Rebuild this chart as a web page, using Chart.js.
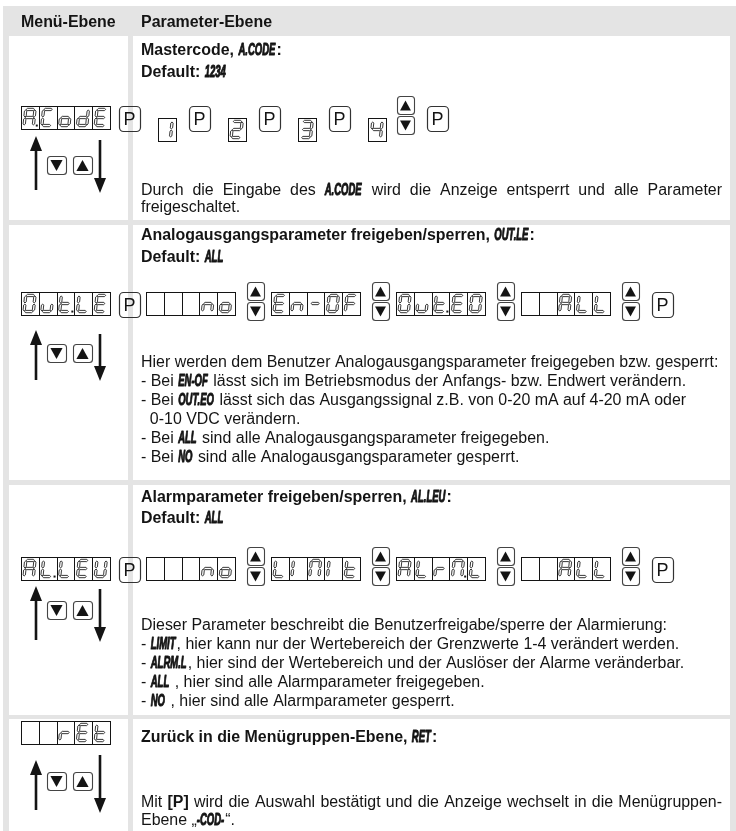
<!DOCTYPE html>
<html>
<head>
<meta charset="utf-8">
<script src="https://cdn.jsdelivr.net/npm/chart.js@4.4.1/dist/chart.umd.min.js"></script>
<style>
  html, body { margin: 0; padding: 0; background: #fff; }
  #menuChart { display: block; }
</style>
</head>
<body>
<canvas id="menuChart" width="736" height="831"></canvas>
<script>
// ---- content ----
const headerLabels = ['Menü-Ebene', 'Parameter-Ebene'];

// {..} = LCD style token, *..* = bold
const sectionTitles = [
  'Mastercode, {A.CODE}:',
  'Analogausgangsparameter freigeben/sperren, {OUT.LE}:',
  'Alarmparameter freigeben/sperren, {AL.LEU}:',
  'Zurück in die Menügruppen-Ebene, {RET}:'
];
const defaultValues = ['1234', 'ALL', 'ALL', null];

const menuCodes = ['A.CodE', 'Out.LE', 'AL.LEU', 'rEt'];

const stepSequences = [
  ['P', '#1', 'P', '#2', 'P', '#3', 'P', '#4', 'UD', 'P'],
  ['P', 'no', 'UD', 'En-OF', 'UD', 'Out.EO', 'UD', 'ALL', 'UD', 'P'],
  ['P', 'no', 'UD', 'LIMIt', 'UD', 'ALrM.L', 'UD', 'ALL', 'UD', 'P'],
  []
];

const descriptions = [
  ['Durch die Eingabe des {A.CODE} wird die Anzeige entsperrt und alle Parameter',
   'freigeschaltet.'],
  ['Hier werden dem Benutzer Analogausgangsparameter freigegeben bzw. gesperrt:',
   '- Bei {EN-OF} lässt sich im Betriebsmodus der Anfangs- bzw. Endwert verändern.',
   '- Bei {OUT.EO} lässt sich das Ausgangssignal z.B. von 0-20 mA auf 4-20 mA oder',
   '  0-10 VDC verändern.',
   '- Bei {ALL} sind alle Analogausgangsparameter freigegeben.',
   '- Bei {NO} sind alle Analogausgangsparameter gesperrt.'],
  ['Dieser Parameter beschreibt die Benutzerfreigabe/sperre der Alarmierung:',
   '- {LIMIT}, hier kann nur der Wertebereich der Grenzwerte 1-4 verändert werden.',
   '- {ALRM.L}, hier sind der Wertebereich und der Auslöser der Alarme veränderbar.',
   '- {ALL} , hier sind alle Alarmparameter freigegeben.',
   '- {NO} , hier sind alle Alarmparameter gesperrt.'],
  ['Mit *[P]* wird die Auswahl bestätigt und die Anzeige wechselt in die Menügruppen-',
   'Ebene „{-COD-}“.']
];
const justifiedLines = [[0], [], [], [0]];

// ---- layout ----
const ROWS = [
  { cy: 117, up: [136, 190], down: [140, 193], btn: 156, title: 55,  def: 77,  desc: [195, 212] },
  { cy: 303, up: [330, 380], down: [334, 381], btn: 344, title: 240, def: 262, desc: [367, 386, 405, 424, 443, 462] },
  { cy: 568, up: [586, 640], down: [589, 642], btn: 601, title: 502, def: 523, desc: [630, 649, 668, 687, 706] },
  { cy: 732, up: [760, 810], down: [755, 813], btn: 772, title: 742, def: null, desc: [807, 825] }
];
const TEXT_X = 141, TEXT_RIGHT = 722;
const GRAY = '#e4e4e4';
const INK = '#141414';
const FONT = '"Liberation Sans", Arial, sans-serif';

const SEGMENTS = {
  '0': 'abcdef', 'O': 'abcdef', '1': 'bc', '2': 'abdeg', '3': 'abcdg', '4': 'bcfg',
  'A': 'abcefg', 'C': 'adef', 'o': 'cdeg', 'd': 'bcdeg', 'E': 'adefg', 'u': 'cde',
  'U': 'bcdef', 't': 'defg', 'L': 'def', 'n': 'ceg', '-': 'g', 'F': 'aefg',
  'r': 'eg', 'I': 'ef', 'M': 'abcef', ' ': ''
};

function fontFor(kind) {
  if (kind === 'lcd') return 'bold italic 17px ' + FONT;
  if (kind === 'bold') return 'bold 16px ' + FONT;
  return '16px ' + FONT;
}

const menuTablePlugin = {
  id: 'menuTable',
  afterDraw(chart) {
    const ctx = chart.ctx;
    const sx = chart.scales.x, sy = chart.scales.y;
    const X = v => sx.getPixelForValue(v);
    const Y = v => sy.getPixelForValue(v);

    ctx.font = fontFor('normal');
    const ref = ctx.measureText('Dieser Parameter beschreibt die Benutzerfreigabe/sperre der Alarmierung:').width;
    const textScale = Math.max(0.9, Math.min(1.12, 526 / ref));
    const scaleOf = { lcd: 0.56, bold: textScale, normal: textScale };

    function box(x0, y0, x1, y1, color) {
      ctx.fillStyle = color;
      ctx.fillRect(X(x0), Y(y0), X(x1) - X(x0), Y(y1) - Y(y0));
    }

    function pieces(text, bold) {
      const out = [];
      text.split(/(\{[^}]*\}|\*[^*]*\*)/).forEach(part => {
        if (!part) return;
        let kind = bold ? 'bold' : 'normal', t = part;
        if (part[0] === '{') { kind = 'lcd'; t = part.slice(1, -1); }
        else if (part[0] === '*') { kind = 'bold'; t = part.slice(1, -1); }
        t.split(/( )/).forEach(w => { if (w) out.push({ t: w, kind, space: w === ' ' }); });
      });
      out.forEach(p => {
        ctx.font = fontFor(p.kind);
        p.w = ctx.measureText(p.t).width * scaleOf[p.kind] + (p.kind === 'lcd' ? 1 : 0);
      });
      return out;
    }

    function drawRich(text, x, y, bold, justify) {
      const ps = pieces(text, bold);
      let extra = 0;
      if (justify) {
        const total = ps.reduce((s, p) => s + p.w, 0);
        const n = ps.filter(p => p.space).length;
        if (n) extra = (TEXT_RIGHT - x - total) / n;
      }
      let cx = x;
      ctx.fillStyle = INK;
      ctx.strokeStyle = INK;
      ctx.textBaseline = 'alphabetic';
      ctx.textAlign = 'left';
      ps.forEach(p => {
        if (!p.space) {
          ctx.save();
          ctx.font = fontFor(p.kind);
          ctx.translate(X(cx), Y(y));
          ctx.scale(scaleOf[p.kind], 1);
          ctx.fillText(p.t, 0, 0);
          if (p.kind === 'lcd') {
            // heavier look of the display font
            ctx.lineWidth = 1.1;
            ctx.lineJoin = 'round';
            ctx.strokeText(p.t, 0, 0);
          }
          ctx.restore();
        }
        cx += p.w + (p.space ? extra : 0);
      });
    }

    // --- table grid ---
    box(3, 6, 736, 36, GRAY);
    box(3, 6, 9, 831, GRAY);
    box(730, 6, 736, 831, GRAY);
    box(128, 6, 133, 831, GRAY);
    [[220, 225], [480, 485], [715, 719]].forEach(s => box(3, s[0], 736, s[1], GRAY));

    drawRich(headerLabels[0], 21, 27, true, false);
    drawRich(headerLabels[1], TEXT_X, 27, true, false);

    // --- seven segment pieces ---
    function segPoly(x1, y1, x2, y2, t, slant, midY) {
      const len = Math.hypot(x2 - x1, y2 - y1);
      const dx = (x2 - x1) / len, dy = (y2 - y1) / len;
      const nx = -dy, ny = dx, g = 0.5, h = t / 2;
      const pts = [
        [x1 + dx * g, y1 + dy * g],
        [x1 + dx * (g + h) + nx * h, y1 + dy * (g + h) + ny * h],
        [x2 - dx * (g + h) + nx * h, y2 - dy * (g + h) + ny * h],
        [x2 - dx * g, y2 - dy * g],
        [x2 - dx * (g + h) - nx * h, y2 - dy * (g + h) - ny * h],
        [x1 + dx * (g + h) - nx * h, y1 + dy * (g + h) - ny * h]
      ];
      ctx.beginPath();
      pts.forEach((p, i) => {
        const px = X(p[0] + (midY - p[1]) * slant), py = Y(p[1]);
        if (i) ctx.lineTo(px, py); else ctx.moveTo(px, py);
      });
      ctx.closePath();
      ctx.fillStyle = '#fff';
      ctx.fill();
      ctx.stroke();
    }

    function drawGlyph(ch, dot, x, y, w, h) {
      const x0 = x + w * 0.22, x1 = x + w * 0.74;
      const y0 = y + h * 0.15, y1 = y + h * 0.85, ym = (y0 + y1) / 2;
      const segs = SEGMENTS[ch] || '';
      const lines = {
        a: [x0, y0, x1, y0], b: [x1, y0, x1, ym], c: [x1, ym, x1, y1],
        d: [x0, y1, x1, y1], e: [x0, ym, x0, y1], f: [x0, y0, x0, ym], g: [x0, ym, x1, ym]
      };
      ctx.strokeStyle = INK;
      ctx.lineWidth = 0.85;
      for (const s of segs) {
        const l = lines[s];
        segPoly(l[0], l[1], l[2], l[3], 2.3, 0.1, ym);
      }
      if (dot) {
        ctx.fillStyle = INK;
        ctx.fillRect(X(x1 + 1.6), Y(y1 - 1), 2, 2);
      }
    }

    function parseCode(code, n) {
      const cells = [];
      for (const ch of code) {
        if (ch === '.' && cells.length) cells[cells.length - 1].dot = true;
        else cells.push({ ch, dot: false });
      }
      while (cells.length < n) cells.unshift({ ch: ' ', dot: false });
      return cells;
    }

    function drawDisplay(code, x, y, w, h, n) {
      const cells = parseCode(code, n);
      const cw = w / n;
      ctx.strokeStyle = INK;
      ctx.lineWidth = 1;
      ctx.strokeRect(Math.round(X(x)) + 0.5, Math.round(Y(y)) + 0.5, Math.round(X(x + w) - X(x)), Math.round(Y(y + h) - Y(y)));
      for (let i = 1; i < n; i++) {
        const lx = Math.round(X(x + i * cw)) + 0.5;
        ctx.beginPath();
        ctx.moveTo(lx, Y(y));
        ctx.lineTo(lx, Y(y + h));
        ctx.stroke();
      }
      cells.forEach((c, i) => drawGlyph(c.ch, c.dot, x + i * cw, y, cw, h));
    }

    function roundBox(x, y, w, h, r, lw, color) {
      ctx.beginPath();
      ctx.roundRect(Math.round(X(x)) + 0.5, Math.round(Y(y)) + 0.5, X(x + w) - X(x), Y(y + h) - Y(y), r);
      ctx.lineWidth = lw;
      ctx.strokeStyle = color;
      ctx.stroke();
    }

    function triangle(cx, cy, size, up) {
      const hh = size * 0.45, hw = size * 0.5;
      ctx.beginPath();
      if (up) {
        ctx.moveTo(X(cx), Y(cy - hh)); ctx.lineTo(X(cx + hw), Y(cy + hh)); ctx.lineTo(X(cx - hw), Y(cy + hh));
      } else {
        ctx.moveTo(X(cx), Y(cy + hh)); ctx.lineTo(X(cx + hw), Y(cy - hh)); ctx.lineTo(X(cx - hw), Y(cy - hh));
      }
      ctx.closePath();
      ctx.fillStyle = INK;
      ctx.fill();
    }

    function keyButton(x, y, w, h, up) {
      roundBox(x, y, w, h, 3, 1.1, '#444');
      triangle(x + w / 2, y + h / 2 + 0.5, w * 0.64, up);
    }

    function pButton(x, cy) {
      roundBox(x, cy - 11, 21, 25, 4, 1.2, '#333');
      ctx.save();
      ctx.font = '18px ' + FONT;
      ctx.fillStyle = INK;
      ctx.textAlign = 'center';
      ctx.textBaseline = 'alphabetic';
      ctx.fillText('P', X(x + 10.5), Y(cy + 8));
      ctx.restore();
    }

    function upDown(x, cy) {
      keyButton(x, cy - 21, 17, 18, true);
      keyButton(x, cy - 1, 17, 18, false);
    }

    function arrow(x, yTop, yBot, up) {
      ctx.strokeStyle = INK;
      ctx.lineWidth = 2.6;
      ctx.beginPath();
      ctx.moveTo(X(x), Y(up ? yBot : yTop));
      ctx.lineTo(X(x), Y(up ? yTop + 12 : yBot - 12));
      ctx.stroke();
      ctx.beginPath();
      if (up) {
        ctx.moveTo(X(x), Y(yTop)); ctx.lineTo(X(x + 6), Y(yTop + 15)); ctx.lineTo(X(x - 6), Y(yTop + 15));
      } else {
        ctx.moveTo(X(x), Y(yBot)); ctx.lineTo(X(x + 6), Y(yBot - 15)); ctx.lineTo(X(x - 6), Y(yBot - 15));
      }
      ctx.closePath();
      ctx.fillStyle = INK;
      ctx.fill();
    }

    const WIDTH = { disp: 89, P: 21, UD: 17, cell: 18 };
    function gapBefore(prev, cur) {
      if (cur === 'P') return prev === 'UD' ? 13 : prev === 'cell' ? 13 : 9;
      if (cur === 'cell') return 18;
      if (cur === 'UD') return prev === 'cell' ? 11 : 12;
      return prev === 'UD' ? 7 : 6;
    }
    const typeOf = s => s === 'P' ? 'P' : s === 'UD' ? 'UD' : s[0] === '#' ? 'cell' : 'disp';

    ROWS.forEach((row, r) => {
      drawRich(sectionTitles[r], TEXT_X, row.title, true, false);
      if (defaultValues[r]) drawRich('Default: {' + defaultValues[r] + '}', TEXT_X, row.def, true, false);
      descriptions[r].forEach((line, i) => {
        drawRich(line, TEXT_X, row.desc[i], false, justifiedLines[r].includes(i));
      });

      let x = 21, prev = 'disp';
      drawDisplay(menuCodes[r], x, row.cy - 11, WIDTH.disp, 23, 5);
      x += WIDTH.disp;
      stepSequences[r].forEach(step => {
        const t = typeOf(step);
        x += gapBefore(prev, t);
        if (t === 'P') pButton(x, row.cy);
        else if (t === 'UD') upDown(x, row.cy);
        else if (t === 'cell') drawDisplay(step.slice(1), x, row.cy + 1, WIDTH.cell, 23, 1);
        else drawDisplay(step, x, row.cy - 11, WIDTH.disp, 23, 5);
        x += WIDTH[t];
        prev = t;
      });

      arrow(36, row.up[0], row.up[1], true);
      arrow(100, row.down[0], row.down[1], false);
      keyButton(47, row.btn, 19, 18, false);
      keyButton(73, row.btn, 19, 18, true);
    });
  }
};

new Chart(document.getElementById('menuChart').getContext('2d'), {
  type: 'scatter',
  data: { datasets: [] },
  options: {
    responsive: false,
    animation: false,
    layout: { padding: 0 },
    plugins: {
      legend: { display: false },
      tooltip: { enabled: false }
    },
    scales: {
      x: { type: 'linear', min: 0, max: 736, display: false },
      y: { type: 'linear', min: 0, max: 831, reverse: true, display: false }
    }
  },
  plugins: [menuTablePlugin]
});
</script>
</body>
</html>
